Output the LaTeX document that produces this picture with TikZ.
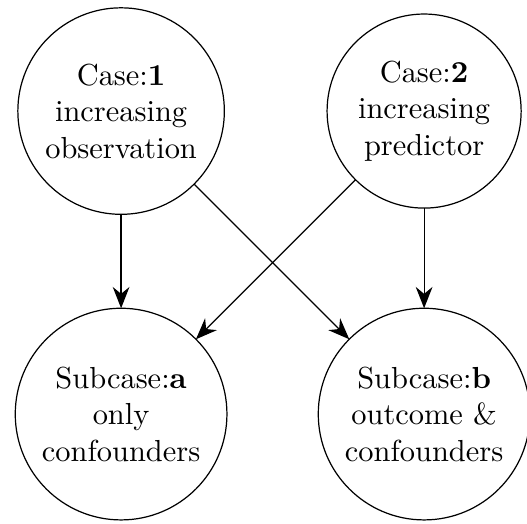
\documentclass[tikz,border=0pt]{standalone}
\usepackage{amsmath}
\usepackage{tikz}
\usetikzlibrary{arrows.meta}
\newcommand{\defaultcasesep}{3.5cm}
\tikzstyle{casenode}=[draw, circle, align=center, inner sep=3.33pt, outer sep=0]
\tikzstyle{casegraph}=[>={Stealth[length=7pt, width=5.5pt]}, line width=0.4pt]

\begin{document}
\begin{tikzpicture}[casegraph]
        % Fix the margins of the picture.
        \useasboundingbox (-39.8pt, 36.5pt) rectangle (133.4pt, -135.4pt);
        \node[casenode] (case1) at (0, 0) {Case:\textbf{1}\\increasing\\observation};
        \node[casenode] (case2) at (\defaultcasesep, 0) {Case:\textbf{2}\\increasing\\predictor};
        \node[casenode] (suba) at (0, -\defaultcasesep) {Subcase:\textbf{a}\\only\\confounders};
        \node[casenode] (subb) at (\defaultcasesep, -\defaultcasesep) {Subcase:\textbf{b}\\outcome \&\\confounders};
        \draw[->] (case1) -- (suba);
        \draw[->] (case1) -- (subb);
        \draw[->] (case2) -- (suba);
        \draw[->] (case2) -- (subb);
    \end{tikzpicture}
\end{document}
